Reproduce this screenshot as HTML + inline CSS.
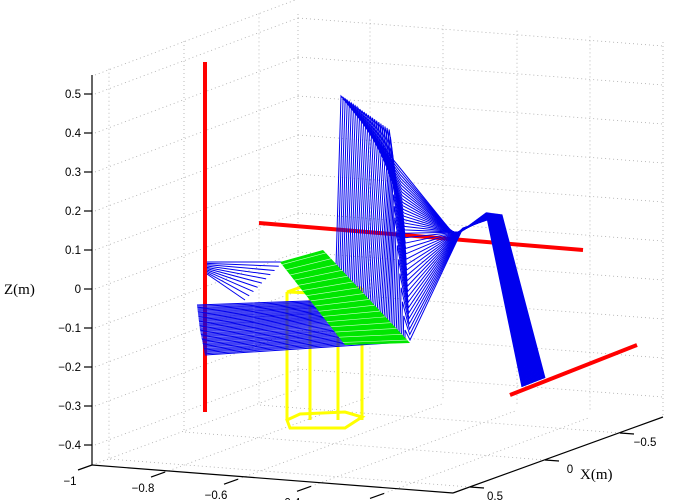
<!DOCTYPE html>
<html><head><meta charset="utf-8"><style>
body{margin:0;background:#fff}
svg{display:block;font-family:"Liberation Sans",sans-serif}
</style></head><body>
<svg id="c" width="680" height="500" viewBox="0 0 680 500">
<g id="grid"></g>
<g id="axes"></g>
<g id="marks"></g>
</svg>
<script>
const zTicks=[0.5,0.4,0.3,0.2,0.1,0,-0.1,-0.2,-0.3,-0.4];
const zLabels=["0.5","0.4","0.3","0.2","0.1","0","\u22120.1","\u22120.2","\u22120.3","\u22120.4"];
const yTicks=[-1,-0.8,-0.6,-0.4,-0.2];
const yLabels=["\u22121","\u22120.8","\u22120.6","\u22120.4","\u22120.2"];
const xTicks=[0.5,0,-0.5];
const xLabels=["0.5","0","\u22120.5"];
const frameCount=[40];
// key poses of the arm (screen-projected joint tracks)
const baseTrack=[[0,197,305],[0.5,200,330],[1,205,355]];
const elbowTrack=[[0,335,300],[0.5,370,320],[1,405,342]];
const peakTrack=[[0,341,96],[0.6,390,130],[0.8,395,220],[1,405,330]];
const midTrack=[[0,400,168],[0.5,405,235],[1,410,340]];
const wristTrack=[[0,455,236],[1,463,228]];
const tipTrack=[[0,486,213],[1,502,215]];
const endTrack=[[0,522,387],[1,545,378]];

const NS="http://www.w3.org/2000/svg";
function mk(tag,attrs,parent){const e=document.createElementNS(NS,tag);for(const k in attrs)e.setAttribute(k,attrs[k]);parent.appendChild(e);return e;}
const zy=z=>289-z*390;
const yx=y=>92+(y+1)*365;
const yy=y=>465+(y+1)*35.5;
const xpx=x=>545-x*150;
const xpy=x=>460+x*54;
const G=document.getElementById('grid'),A=document.getElementById('axes'),M=document.getElementById('marks');
const dot={stroke:"#aaa","stroke-width":0.8,"stroke-dasharray":"1 3",fill:"none"};
function line(p,x1,y1,x2,y2,st,name){const l=mk('line',Object.assign({x1:x1,y1:y1,x2:x2,y2:y2},st),p);

return l;}
zTicks.forEach((z,i)=>{const y=zy(z);
 line(G,95,y,298,y-76,dot,'left-wall-gridline');
 line(G,298,y-76,663,y-48,dot,'right-wall-gridline');});
[298,370,443,517,590,663].forEach(x=>{const t=(x-298)/365;line(G,x,14+t*28,x,389+t*28,dot,'right-wall-vgrid');});
xTicks.forEach(x=>{const bx=xpx(x)-361,by=xpy(x)-28;const t=(bx-92)/206;line(G,bx,465-76*t-390,bx,465-76*t,dot,'left-wall-vgrid');
 line(G,xpx(x),xpy(x),bx,by,dot,'floor-gridline');});
yTicks.forEach(y=>{line(G,yx(y),yy(y),yx(y)+206,yy(y)-76,dot,'floor-gridline');});
line(G,95,75,298,-1,dot,'left-wall-top');
const ax={stroke:"#000","stroke-width":1.2};
line(A,92,75,92,465,ax,'z-axis');
line(A,92,465,453,493,ax,'y-axis');
line(A,453,493,663,417,ax,'x-axis');
zTicks.forEach((z,i)=>{line(A,84,zy(z),92,zy(z),ax,'z-tick');
 const t=mk('text',{x:81,y:zy(z)+4,"text-anchor":"end","font-size":11.5},A);t.textContent=zLabels[i];
 
 });
yTicks.forEach((y,i)=>{line(A,yx(y),yy(y),yx(y)-14,yy(y)+5,ax,'y-tick');
 const t=mk('text',{x:yx(y)-22,y:yy(y)+20,"text-anchor":"middle","font-size":11.5},A);t.textContent=yLabels[i];
 
 });
xTicks.forEach((x,i)=>{line(A,xpx(x),xpy(x),xpx(x)+14,xpy(x)+1,ax,'x-tick');
 const t=mk('text',{x:xpx(x)+25,y:xpy(x)+13,"text-anchor":"middle","font-size":11.5},A);t.textContent=xLabels[i];
 
 });
let t1=mk('text',{x:4,y:294,"font-size":15,"font-family":"Liberation Serif, serif"},A);t1.textContent="Z(m)";


let t2=mk('text',{x:580,y:479,"font-size":15,"font-family":"Liberation Serif, serif"},A);t2.textContent="X(m)";


const red={stroke:"#f00","stroke-width":4,"stroke-linecap":"butt"};
line(M,205,62,205,412,red,'red-vertical-bar');
line(M,259,223,583,250,red,'red-horizontal-bar');
line(M,510,395,637,345,red,'red-lower-bar');
const yel={stroke:"#ff0","stroke-width":3,fill:"none"};
[[287,292],[310,286],[338,292],[362,288]].forEach(c=>line(M,c[0],c[1],c[0],420,yel,'yellow-box-edge'));
let yb=mk('polygon',Object.assign({points:"287,420 300,414 345,412 362,417 345,428 290,428"},yel),M);

let yt=mk('polygon',Object.assign({points:"287,292 310,284 362,288 338,294"},yel),M);

function track(tr,t){for(let k=0;k<tr.length-1;k++){const a=tr[k],b=tr[k+1];if(t<=b[0]){const u=(t-a[0])/(b[0]-a[0]);return [a[1]+(b[1]-a[1])*u,a[2]+(b[2]-a[2])*u];}}const l=tr[tr.length-1];return [l[1],l[2]];}
const N=frameCount[0];
for(let i=0;i<N;i++){const t=i/(N-1);
 const pts=[baseTrack,elbowTrack,peakTrack,midTrack,wristTrack,tipTrack,endTrack].map(tr=>track(tr,t));
 const p=mk('polyline',{points:pts.map(q=>q.join(',')).join(' '),stroke:"#0000ee","stroke-width":1,fill:"none"},M);
 
 }
const L=(a,b,t)=>[a[0]+(b[0]-a[0])*t,a[1]+(b[1]-a[1])*t];
for(let i=0;i<10;i++){const t=i/9;const e=L([283,262],[245,300],t);
 line(M,207,262+t*12,e[0],e[1],{stroke:"#0000ee","stroke-width":1},'arm-fan-line');}
let gp=mk('polygon',{points:"280,262 323,250 410,343 345,345",fill:"#00e600"},M);

for(let i=0;i<16;i++){const t=(i+0.5)/16;const a=L([280,262],[345,345],t),b=L([323,250],[410,343],t);
 line(M,a[0],a[1],b[0],b[1],{stroke:"#c8ffc8","stroke-width":0.6},'green-surface-line');}
</script>
</body></html>
